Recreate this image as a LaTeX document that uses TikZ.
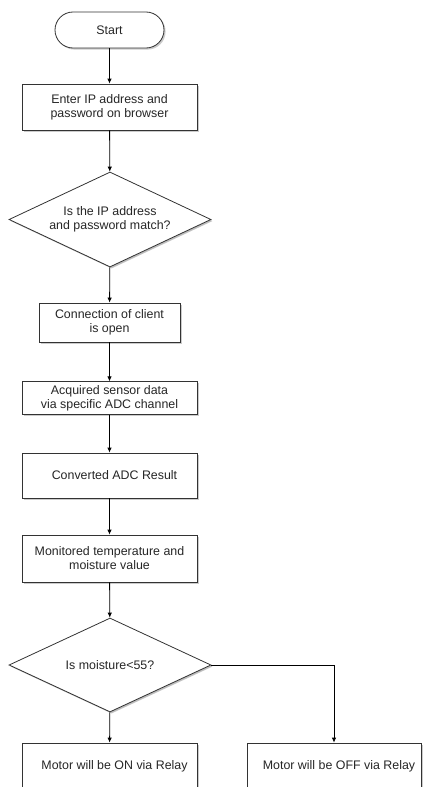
\documentclass[tikz,border=0pt]{standalone}
\usepackage{fontspec}
\setmainfont{Liberation Sans}
\usetikzlibrary{shapes.geometric,shadows,arrows.meta}
\tikzset{
  base/.style={draw=black!80, line width=0.8pt, fill=white, align=center,
    font=\fontsize{12.4}{14}\selectfont, text=black!85, inner sep=0pt,
    drop shadow={shadow xshift=1.6pt, shadow yshift=-1.6pt, opacity=0.45, fill=black!45}},
  procbox/.style={base, rectangle},
  termbox/.style={base, rectangle, rounded corners=18pt},
  decbox/.style={base, diamond, shape aspect=2.13,
    drop shadow={shadow xshift=1.2pt, shadow yshift=-1.2pt, opacity=0.3, fill=black!40}},
  flow/.style={draw=black, line width=0.8pt, -{Latex[length=5pt,width=4.5pt]}}
}
\begin{document}
\begin{tikzpicture}[x=1pt,y=-1pt]
\useasboundingbox (0,0) rectangle (424,787);
\clip (0,0) rectangle (424,787);
\node[termbox, minimum width=109pt, minimum height=36pt] (start) at (109.5,30) {Start};
\node[procbox, minimum width=175pt, minimum height=46pt] (enter) at (109.5,107) {Enter IP address and\\password on browser};
\node[decbox, minimum width=202pt, minimum height=95pt] (d1) at (110,219.5) {Is the IP address\\ and password match?};
\node[procbox, minimum width=141pt, minimum height=39pt] (conn) at (109.5,322.5) {Connection of client\\is open};
\node[procbox, minimum width=175pt, minimum height=32.5pt] (acq) at (109.5,398) {Acquired sensor data\\via specific ADC channel};
\node[procbox, minimum width=175pt, minimum height=45pt] (conv) at (109.5,475.5) {\hspace*{10pt}Converted ADC Result};
\node[procbox, minimum width=175pt, minimum height=47pt] (mon) at (109.5,558.5) {Monitored temperature and\\moisture value};
\node[decbox, minimum width=202pt, minimum height=94pt] (d2) at (110,665) {Is moisture<55?};
\node[procbox, minimum width=175pt, minimum height=46pt] (on) at (109.5,766) {\hspace*{10pt}Motor will be ON via Relay};
\node[procbox, minimum width=174pt, minimum height=46pt] (off) at (334,766) {\hspace*{10pt}Motor will be OFF via Relay};
\draw[flow] (start) -- (enter);
\draw[flow] (enter) -- (d1);
\draw[flow] (d1) -- (conn);
\draw[flow] (conn) -- (acq);
\draw[flow] (acq) -- (conv);
\draw[flow] (conv) -- (mon);
\draw[flow] (mon) -- (d2);
\draw[flow] (d2) -- (on);
\draw[flow] (d2.east) -| (off.north);
\end{tikzpicture}
\end{document}
